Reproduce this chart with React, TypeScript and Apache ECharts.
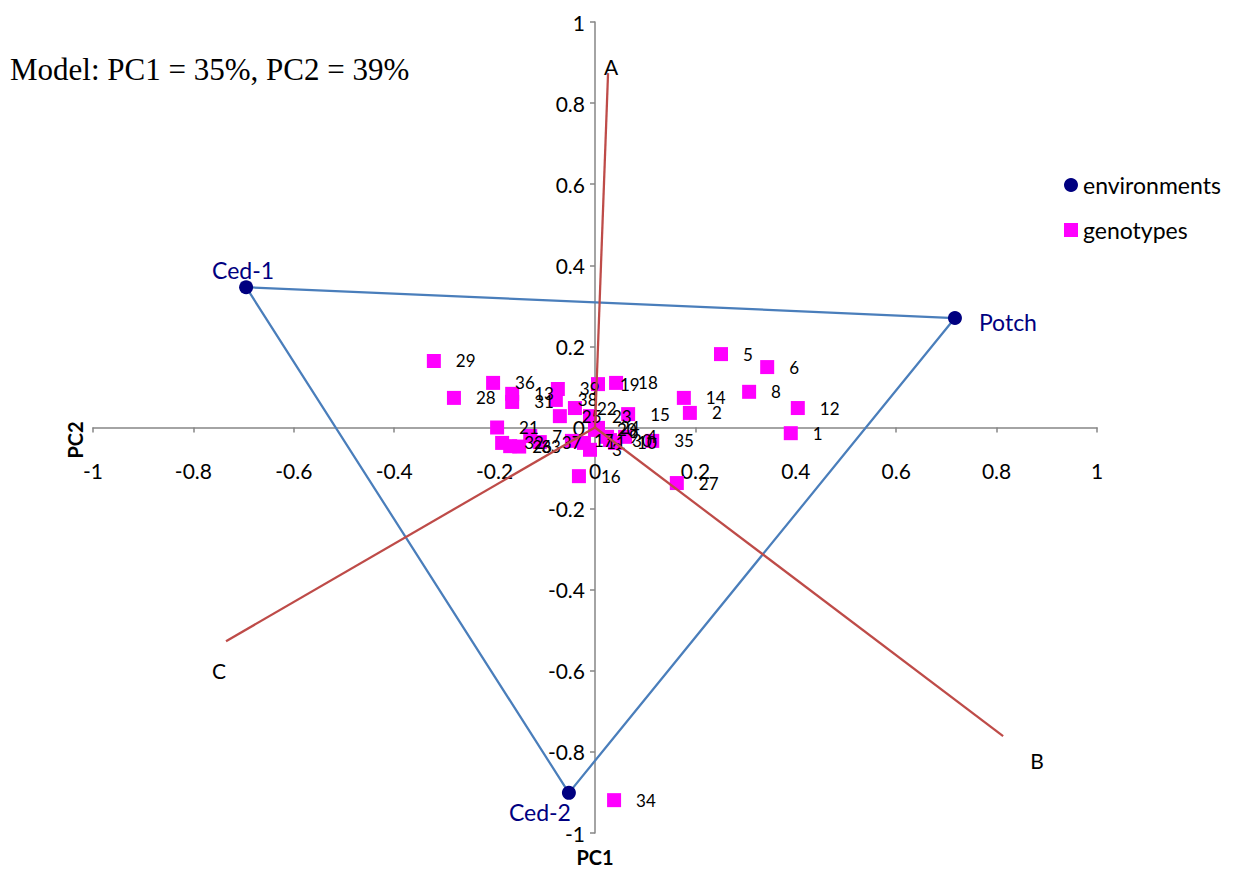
import React, { useEffect, useRef } from "react";
import * as echarts from "echarts";

// ---- data ----
const genotypeNames = [
  "1", "2", "3", "4", "5", "6", "7", "8", "9", "10",
  "11", "12", "13", "14", "15", "16", "17", "18", "19", "20",
  "21", "22", "23", "24", "25", "26", "27", "28", "29", "30",
  "31", "32", "33", "34", "35", "36", "37", "38", "39",
];
const genotypePC1 = [
  0.39, 0.189, -0.01, 0.06, 0.251, 0.343, -0.129, 0.307, 0.024, 0.04,
  -0.022, 0.404, -0.165, 0.177, 0.066, -0.032, -0.046, 0.042, 0.006, 0.0,
  -0.195, -0.04, -0.01, 0.006, -0.07, -0.169, 0.163, -0.281, -0.321, 0.03,
  -0.165, -0.185, -0.151, 0.038, 0.114, -0.203, -0.11, -0.078, -0.074,
];
const genotypePC2 = [
  -0.014, 0.036, -0.055, -0.023, 0.181, 0.149, -0.021, 0.088, -0.023, -0.038,
  -0.038, 0.048, 0.083, 0.073, 0.033, -0.12, -0.033, 0.11, 0.107, -0.006,
  0.0, 0.048, 0.028, -0.001, 0.028, -0.046, -0.137, 0.073, 0.164, -0.031,
  0.063, -0.038, -0.047, -0.919, -0.033, 0.11, -0.036, 0.068, 0.095,
];

const envNames = ["Ced-1", "Potch", "Ced-2"];
const envPC1 = [-0.695, 0.717, -0.052];
const envPC2 = [0.346, 0.27, -0.901];

const vectorNames = ["A", "B", "C"];
const vectorPC1 = [0.026, 0.813, -0.735];
const vectorPC2 = [0.874, -0.761, -0.527];

const axisMin = -1;
const axisMax = 1;
const axisStep = 0.2;

const titleText = "Model: PC1 = 35%, PC2 = 39%";
const xAxisTitle = "PC1";
const yAxisTitle = "PC2";

// ---- styling (not data) ----
const envLabelOffset: Record<string, number[]> = {
  "Ced-1": [-3, -17],
  Potch: [53, 4],
  "Ced-2": [-29, 19],
};
const vectorLabelOffset: Record<string, number[]> = {
  A: [3, -7],
  B: [34, 24],
  C: [-7, 29],
};

const FONT = "Lato, 'Open Sans', sans-serif";
const GRID = { left: 93, right: 143, top: 22, bottom: 38 };
const GRID_W = 1240 - GRID.left - GRID.right;
const GRID_H = 871 - GRID.top - GRID.bottom;

export default function App() {
  const ref = useRef<HTMLDivElement>(null);

  useEffect(() => {
    if (!ref.current) return;
    const chart = echarts.init(ref.current, undefined, { renderer: "svg" });

    const genoData = genotypeNames.map((n, i) => ({
      name: n,
      value: [genotypePC1[i], genotypePC2[i]],
    }));
    const envData = envNames.map((n, i) => ({
      name: n,
      value: [envPC1[i], envPC2[i]],
      label: { offset: envLabelOffset[n] },
    }));
    const polygon = [0, 1, 2, 0].map((i) => [envPC1[i], envPC2[i]]);
    const vectorSeries = vectorNames.map((n, i) => ({
      type: "line",
      name: "vector-" + n,
      data: [
        [0, 0],
        [vectorPC1[i], vectorPC2[i]],
      ],
      symbol: "none",
      lineStyle: { color: "#BE4B48", width: 2.25 },
      z: 3,
      silent: true,
    }));
    const vectorLabelData = vectorNames.map((n, i) => ({
      name: n,
      value: [vectorPC1[i], vectorPC2[i]],
      label: { offset: vectorLabelOffset[n] },
    }));

    const axisCommon = {
      type: "value",
      min: axisMin,
      max: axisMax,
      interval: axisStep,
      splitLine: { show: false },
      axisLine: {
        onZero: false,
        lineStyle: { color: "#868686", width: 1.5 },
      },
      axisTick: {
        show: true,
        length: 5,
        lineStyle: { color: "#868686", width: 1.5 },
      },
    };

    chart.setOption({
      animation: false,
      backgroundColor: "#ffffff",
      grid: { ...GRID, outerBoundsMode: "none", containLabel: false },
      xAxis: {
        ...axisCommon,
        position: "bottom",
        offset: -GRID_H / 2,
        axisLabel: {
          color: "#000",
          fontFamily: FONT,
          fontSize: 21,
          margin: 32,
        },
      },
      yAxis: {
        ...axisCommon,
        position: "left",
        offset: -GRID_W / 2,
        axisLabel: {
          color: "#000",
          fontFamily: FONT,
          fontSize: 21,
          margin: 10,
        },
      },
      legend: {
        orient: "vertical",
        left: 1059,
        top: 168,
        itemWidth: 14,
        itemHeight: 14,
        itemGap: 21,
        textStyle: { fontFamily: FONT, fontSize: 23, color: "#000", lineHeight: 24 },
        data: [
          { name: "environments", icon: "circle", itemStyle: { color: "#000080", opacity: 1 } },
          { name: "genotypes", icon: "rect", itemStyle: { color: "#FF00FF", opacity: 1 } },
        ],
      },
      graphic: [
        {
          type: "text",
          left: 10,
          top: 54,
          style: {
            text: titleText,
            fontFamily: "'Liberation Serif', 'Times New Roman', serif",
            fontSize: 31,
            fill: "#000",
          },
        },
        {
          type: "text",
          x: 595,
          y: 857,
          style: {
            text: xAxisTitle,
            fontFamily: FONT,
            fontWeight: "bold",
            fontSize: 20,
            fill: "#000",
            align: "center",
            verticalAlign: "middle",
          },
        },
        {
          type: "text",
          x: 75,
          y: 440,
          rotation: Math.PI / 2,
          style: {
            text: yAxisTitle,
            fontFamily: FONT,
            fontWeight: "bold",
            fontSize: 20,
            fill: "#000",
            align: "center",
            verticalAlign: "middle",
          },
        },
      ],
      series: [
        {
          type: "scatter",
          name: "genotypes",
          data: genoData,
          symbol: "rect",
          symbolSize: 14,
          itemStyle: { color: "#FF00FF", opacity: 1 },
          z: 2,
          label: {
            show: true,
            position: "right",
            distance: 15,
            formatter: "{b}",
            color: "#000",
            opacity: 1,
            fontFamily: FONT,
            fontSize: 17,
          },
        },
        {
          type: "line",
          name: "polygon",
          data: polygon,
          symbol: "none",
          lineStyle: { color: "#4A7EBB", width: 2.25 },
          z: 3,
          silent: true,
        },
        ...vectorSeries,
        {
          type: "scatter",
          name: "vector-labels",
          data: vectorLabelData,
          symbolSize: 1,
          itemStyle: { color: "rgba(0,0,0,0)", opacity: 1 },
          z: 4,
          label: {
            show: true,
            position: "inside",
            formatter: "{b}",
            color: "#000",
            opacity: 1,
            fontFamily: FONT,
            fontSize: 21,
          },
        },
        {
          type: "scatter",
          name: "environments",
          data: envData,
          symbol: "circle",
          symbolSize: 14,
          itemStyle: { color: "#000080", opacity: 1 },
          z: 5,
          label: {
            show: true,
            position: "inside",
            formatter: "{b}",
            color: "#000080",
            opacity: 1,
            fontFamily: FONT,
            fontSize: 23,
          },
        },
      ],
    });

    return () => chart.dispose();
  }, []);

  return (
    <div
      ref={ref}
      style={{ position: "absolute", left: 0, top: 0, width: 1240, height: 871 }}
    />
  );
}
